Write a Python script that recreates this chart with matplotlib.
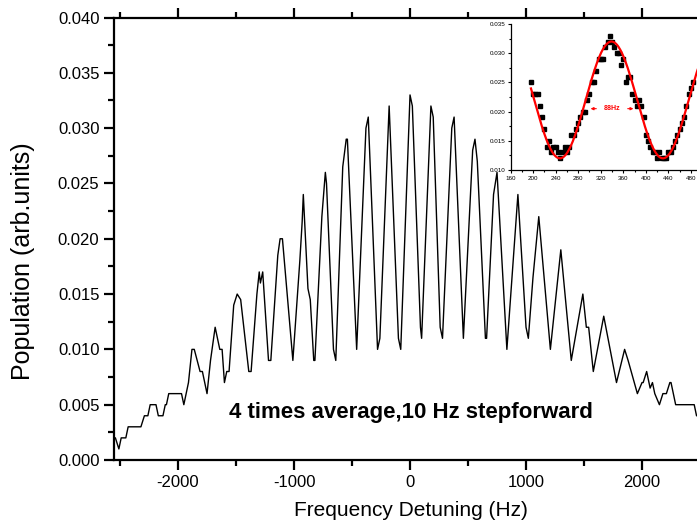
import numpy as np
import matplotlib
matplotlib.use("Agg")
import matplotlib.pyplot as plt
from matplotlib.ticker import MultipleLocator, FormatStrFormatter

plt.rcParams['font.family'] = ['Liberation Sans', 'DejaVu Sans']
plt.rcParams['axes.unicode_minus'] = False

# ---------------- main curve ----------------
main_hz = [-2550, -2540, -2510, -2490, -2450, -2430, -2320, -2290, -2260, -2240,
           -2190, -2170, -2130, -2110, -2100, -2080, -1970, -1950, -1910, -1880,
           -1860, -1810, -1790, -1750, -1720, -1680, -1640, -1620, -1600, -1580,
           -1560, -1520, -1490, -1460, -1390, -1370, -1320, -1300, -1290, -1270,
           -1220, -1200, -1140, -1120, -1100, -1010, -950, -930, -920, -880,
           -860, -830, -820, -760, -730, -720, -660, -640, -580, -550,
           -540, -460, -380, -360, -280, -260, -180, -100, -80, 0,
           20, 90, 100, 180, 200, 260, 280, 360, 380, 460,
           540, 560, 580, 650, 660, 720, 750, 835, 930, 1000,
           1020, 1060, 1110, 1210, 1300, 1390, 1490, 1520, 1540, 1580,
           1670, 1780, 1850, 1880, 1960, 2000, 2010, 2040, 2070, 2090,
           2110, 2150, 2180, 2210, 2240, 2250, 2290, 2450, 2470, 2480]
main_pop = [0.002, 0.002, 0.001, 0.002, 0.002, 0.003, 0.003, 0.004, 0.004, 0.005,
            0.005, 0.004, 0.004, 0.005, 0.005, 0.006, 0.006, 0.005, 0.007, 0.010,
            0.010, 0.008, 0.008, 0.006, 0.009, 0.012, 0.010, 0.010, 0.007, 0.008,
            0.008, 0.014, 0.015, 0.0145, 0.008, 0.008, 0.015, 0.017, 0.016, 0.017,
            0.009, 0.009, 0.0185, 0.020, 0.020, 0.009, 0.018, 0.0215, 0.024, 0.0155,
            0.0145, 0.009, 0.009, 0.022, 0.026, 0.025, 0.010, 0.009, 0.0265, 0.029,
            0.029, 0.010, 0.030, 0.031, 0.010, 0.011, 0.032, 0.011, 0.010, 0.033,
            0.032, 0.012, 0.011, 0.032, 0.031, 0.012, 0.011, 0.030, 0.031, 0.011,
            0.028, 0.029, 0.027, 0.011, 0.011, 0.024, 0.026, 0.010, 0.024, 0.012,
            0.011, 0.0165, 0.022, 0.010, 0.019, 0.009, 0.015, 0.012, 0.012, 0.008,
            0.013, 0.007, 0.010, 0.009, 0.006, 0.007, 0.007, 0.008, 0.0065, 0.007,
            0.006, 0.005, 0.006, 0.006, 0.007, 0.007, 0.005, 0.005, 0.004, 0.004]

# ---------------- inset data ----------------
inset_hz = [196, 200, 204, 208, 212, 216, 220, 224, 228, 232,
            236, 240, 244, 248, 252, 256, 260, 264, 268, 272,
            276, 280, 284, 288, 292, 296, 300, 304, 308, 312,
            316, 320, 324, 328, 332, 336, 340, 344, 348, 352,
            356, 360, 364, 368, 372, 376, 380, 384, 388, 392,
            396, 400, 404, 408, 412, 416, 420, 424, 428, 432,
            436, 440, 444, 448, 452, 456, 460, 464, 468, 472,
            476, 480, 484]
inset_pop = [0.025, 0.023, 0.023, 0.023, 0.021, 0.019, 0.017, 0.014, 0.015, 0.013,
             0.014, 0.014, 0.013, 0.012, 0.013, 0.014, 0.013, 0.014, 0.016, 0.016,
             0.017, 0.018, 0.019, 0.020, 0.020, 0.022, 0.023, 0.025, 0.025, 0.027,
             0.029, 0.029, 0.029, 0.031, 0.032, 0.033, 0.032, 0.031, 0.030, 0.030,
             0.028, 0.029, 0.025, 0.026, 0.026, 0.023, 0.022, 0.021, 0.022, 0.021,
             0.019, 0.016, 0.015, 0.014, 0.013, 0.013, 0.012, 0.013, 0.012, 0.012,
             0.012, 0.013, 0.013, 0.014, 0.015, 0.016, 0.017, 0.018, 0.019, 0.021,
             0.023, 0.024, 0.025]

# sinusoidal fit shown in red (fit parameters)
fit_offset = 0.0220
fit_amp = 0.0100
fit_period = 183.0
fit_center = 339.0
fit_range = (196, 492)

xlabel = "Frequency Detuning (Hz)"
ylabel = "Population (arb.units)"
note = "4 times average,10 Hz stepforward"
inset_note = "88Hz"

W, H = 697, 527
fig = plt.figure(figsize=(W / 100, H / 100), dpi=100)

ax_l, ax_b, ax_t = 114 / W, 1 - 460 / H, 1 - 17.5 / H
ax = fig.add_axes([ax_l, ax_b, 1.0 - ax_l, ax_t - ax_b])
ax.plot(main_hz, main_pop, color='black', lw=1.0)
ax.set_xlim(-2552, 2474)
ax.set_ylim(0, 0.040)
ax.xaxis.set_major_locator(MultipleLocator(1000))
ax.xaxis.set_minor_locator(MultipleLocator(500))
ax.yaxis.set_major_locator(MultipleLocator(0.005))
ax.yaxis.set_minor_locator(MultipleLocator(0.0025))
ax.yaxis.set_major_formatter(FormatStrFormatter('%.3f'))
ax.spines['right'].set_visible(False)
for s in ['left', 'bottom', 'top']:
    ax.spines[s].set_linewidth(1.6)
ax.tick_params(which='both', direction='out', top=True, right=False,
               labeltop=False, width=1.6, labelsize=12)
ax.tick_params(which='major', length=7)
ax.tick_params(which='minor', length=4)
ax.set_xlabel(xlabel, fontsize=15)
ax.xaxis.set_label_coords(0.51, -0.092)
ax.set_ylabel(ylabel, fontsize=18)
ax.yaxis.set_label_coords(-0.136, 0.45)
ax.text(5, 0.0043, note, fontsize=16, fontweight='bold', ha='center', va='center')

# ---------------- inset ----------------
in_l = 510.7 / W
in_b = 1 - 170 / H
in_t = 1 - 24 / H
axin = fig.add_axes([in_l, in_b, 1.0 - in_l, in_t - in_b])
axin.plot(inset_hz, inset_pop, 's', color='black', ms=2.6, mec='black')
xf = np.linspace(fit_range[0], fit_range[1], 400)
axin.plot(xf, fit_offset + fit_amp * np.cos(2 * np.pi * (xf - fit_center) / fit_period),
          color='red', lw=1.6)
axin.set_xlim(160, 491)
axin.set_ylim(0.010, 0.035)
axin.xaxis.set_major_locator(MultipleLocator(40))
axin.xaxis.set_minor_locator(MultipleLocator(20))
axin.yaxis.set_major_locator(MultipleLocator(0.005))
axin.yaxis.set_minor_locator(MultipleLocator(0.0025))
axin.yaxis.set_major_formatter(FormatStrFormatter('%.3f'))
axin.spines['right'].set_visible(False)
axin.spines['top'].set_visible(False)
for s in ['left', 'bottom']:
    axin.spines[s].set_linewidth(0.9)
axin.tick_params(which='both', direction='out', width=0.8, labelsize=4.5, pad=1.5)
axin.tick_params(which='major', length=2.5)
axin.tick_params(which='minor', length=1.5)
axin.text(340, 0.0205, inset_note, color='red', fontsize=5, fontweight='bold',
          ha='center', va='center')
axin.annotate('', xy=(297, 0.0205), xytext=(317, 0.0205),
              arrowprops=dict(arrowstyle='-|>', color='red', lw=0.8, mutation_scale=4))
axin.annotate('', xy=(383, 0.0205), xytext=(363, 0.0205),
              arrowprops=dict(arrowstyle='-|>', color='red', lw=0.8, mutation_scale=4))

fig.savefig('out.png', dpi=100)
